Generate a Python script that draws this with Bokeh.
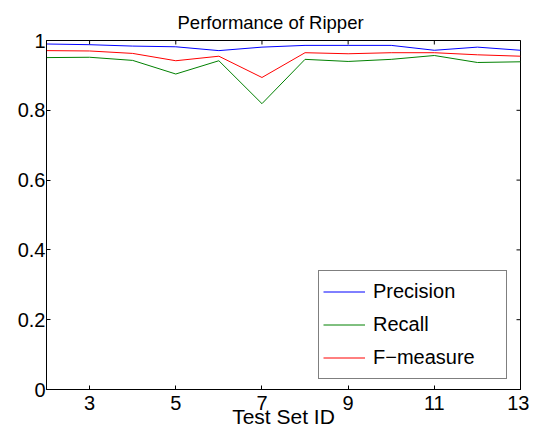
from bokeh.plotting import figure
from bokeh.models import Range1d, FixedTicker, Legend, LegendItem
from bokeh.embed import file_html
from bokeh.resources import INLINE

test_set_id = [2, 3, 4, 5, 6, 7, 8, 9, 10, 11, 12, 13]
precision = [0.990, 0.988, 0.984, 0.982, 0.971, 0.981, 0.986, 0.986, 0.986, 0.972, 0.981, 0.972]
recall = [0.951, 0.952, 0.943, 0.904, 0.942, 0.819, 0.946, 0.940, 0.946, 0.957, 0.937, 0.939]
f_measure = [0.971, 0.970, 0.963, 0.942, 0.955, 0.894, 0.965, 0.962, 0.965, 0.965, 0.959, 0.955]

x_ticks = [3, 5, 7, 9, 11, 13]
y_ticks = [0, 0.2, 0.4, 0.6, 0.8, 1]
y_tick_labels = ["0", "0.2", "0.4", "0.6", "0.8", "1"]
x_label = "Test Set ID"
title = "Performance of Ripper"

FONT = "Liberation Sans"

p = figure(width=529, height=430, output_backend="svg", toolbar_location=None,
           x_range=Range1d(2, 13), y_range=Range1d(0, 1),
           min_border_left=46, min_border_right=9, min_border_top=40, min_border_bottom=41,
           title=title)
p.title.align = "left"
p.title.offset = 131
p.title.text_font = FONT
p.title.text_font_size = "18.5px"
p.title.text_font_style = "normal"
p.title.text_color = "black"
p.title.standoff = 16
p.grid.visible = False
p.outline_line_color = "black"
p.outline_line_width = 1
p.background_fill_color = "white"
p.border_fill_color = "white"

def style_axis(ax):
    ax.axis_line_color = "black"
    ax.axis_line_width = 1
    ax.major_tick_in = 4
    ax.major_tick_out = 0
    ax.minor_tick_line_color = None
    ax.major_tick_line_color = "black"
    ax.major_label_text_font = FONT
    ax.major_label_text_font_size = "20px"
    ax.major_label_text_color = "black"

xa = p.xaxis[0]
ya = p.yaxis[0]
xa.ticker = FixedTicker(ticks=x_ticks)
ya.ticker = FixedTicker(ticks=y_ticks)
ya.major_label_overrides = {t: s for t, s in zip(y_ticks, y_tick_labels)}
style_axis(xa)
style_axis(ya)
xa.major_label_standoff = 6
ya.major_label_standoff = 1
xa.axis_label = x_label
xa.axis_label_text_font = FONT
xa.axis_label_text_font_size = "21px"
xa.axis_label_text_font_style = "normal"
xa.axis_label_text_color = "black"
xa.axis_label_standoff = -8

# inward ticks on the top and right edges of the box
p.scatter(x=x_ticks, y=[p.y_range.end] * len(x_ticks), marker="dash", angle=1.5708,
          size=8, line_color="black", line_width=1)
p.scatter(x=[p.x_range.end] * len(y_ticks), y=y_ticks, marker="dash",
          size=8, line_color="black", line_width=1)

r_p = p.line(test_set_id, precision, line_color="#0000ff", line_width=1)
r_r = p.line(test_set_id, recall, line_color="#008000", line_width=1)
r_f = p.line(test_set_id, f_measure, line_color="#ff0000", line_width=1)

legend = Legend(items=[LegendItem(label="Precision", renderers=[r_p]),
                       LegendItem(label="Recall", renderers=[r_r]),
                       LegendItem(label="F\u2212measure", renderers=[r_f])],
                location=(272, 10))
legend.label_text_font = FONT
legend.label_text_font_size = "20px"
legend.label_text_color = "black"
legend.glyph_width = 42
legend.glyph_height = 33
legend.label_height = 33
legend.label_width = 129
legend.label_standoff = 8
legend.padding = 4
legend.spacing = 0
legend.margin = 0
legend.border_line_color = "black"
legend.border_line_width = 1
legend.background_fill_alpha = 1
p.add_layout(legend, "center")

open("out.html", "w").write(file_html(p, INLINE))
